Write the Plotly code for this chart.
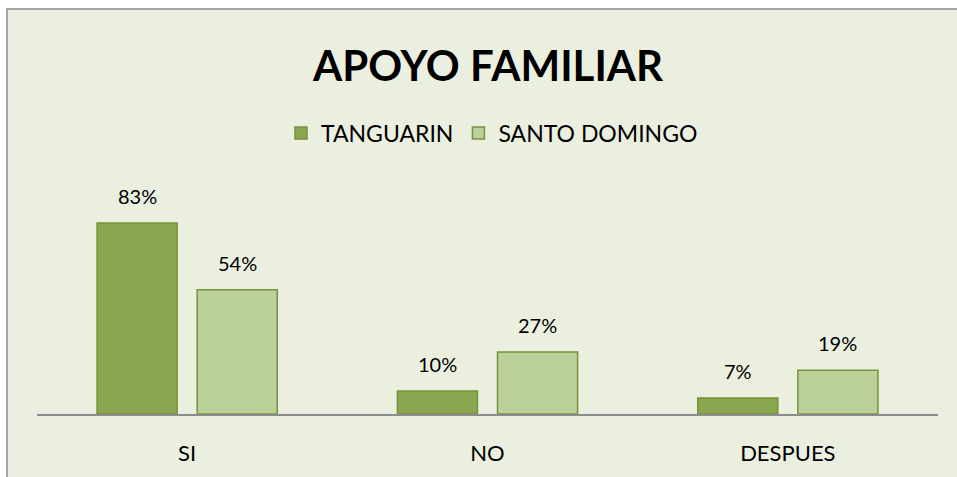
import plotly.graph_objects as go

categories = ["SI", "NO", "DESPUES"]
series_names = ["TANGUARIN", "SANTO DOMINGO"]
tanguarin = [0.83, 0.10, 0.07]
santo_domingo = [0.54, 0.27, 0.19]

fills = ["#8AA64E", "#BCD09A"]
edge = "#76923C"
FONT = "Lato"

W, H = 957, 477
ML, MR, MT, MB = 37, 19, 207, 63
pw = W - ML - MR
ph = H - MT - MB

fig = go.Figure()
for name, vals, col in zip(series_names, [tanguarin, santo_domingo], fills):
    fig.add_trace(go.Bar(
        x=categories, y=vals, name=name,
        marker=dict(color=col, line=dict(color=edge, width=1.5)),
        textposition="none",
    ))

# data labels above bars
offsets = [-50, 50]
for vals, dx in zip([tanguarin, santo_domingo], offsets):
    for c, v in zip(categories, vals):
        fig.add_annotation(
            x=c, y=v, xref="x", yref="y", text=f"{round(v*100)}%",
            showarrow=False, xshift=dx, yshift=13, yanchor="bottom",
            font=dict(family=FONT, size=20, color="#000000"),
        )

def px_x(p):
    return (p - ML) / pw

def px_y(p):
    return (H - MB - p) / ph

# chart area background with border
fig.add_shape(type="rect", xref="paper", yref="paper",
              x0=px_x(7), x1=px_x(W + 10), y0=px_y(H + 10), y1=px_y(9),
              fillcolor="#EBEFE0", line=dict(color="#8C8C8C", width=1.5),
              layer="below")

fig.update_layout(
    width=W, height=H,
    margin=dict(l=ML, r=MR, t=MT, b=MB),
    paper_bgcolor="#FFFFFF",
    plot_bgcolor="rgba(0,0,0,0)",
    barmode="group", bargap=1/3, bargroupgap=0.2,
    title=dict(text="<b>APOYO FAMILIAR</b>", x=0.51, xanchor="center",
               y=1 - 66 / H, yanchor="middle", yref="container",
               font=dict(family=FONT, size=42, color="#000000")),
    legend=dict(orientation="h", x=px_x(281), xanchor="left",
                y=px_y(133), yanchor="middle",
                font=dict(family=FONT, size=23, color="#000000"),
                bgcolor="rgba(0,0,0,0)", itemwidth=30, traceorder="normal"),
    font=dict(family=FONT, size=20, color="#000000"),
    showlegend=True,
)
fig.update_xaxes(showline=True, linecolor="#8C8C8C", linewidth=1.5,
                 ticks="", showgrid=False, zeroline=False,
                 tickfont=dict(family=FONT, size=22, color="#000000"),
                 ticklabelstandoff=19)
fig.update_yaxes(range=[0, 0.9], visible=False, showgrid=False, zeroline=False)

fig.write_html("out.html",
               config={"displayModeBar": False},
               post_script="document.body.style.margin='0';document.body.style.overflow='hidden';")
